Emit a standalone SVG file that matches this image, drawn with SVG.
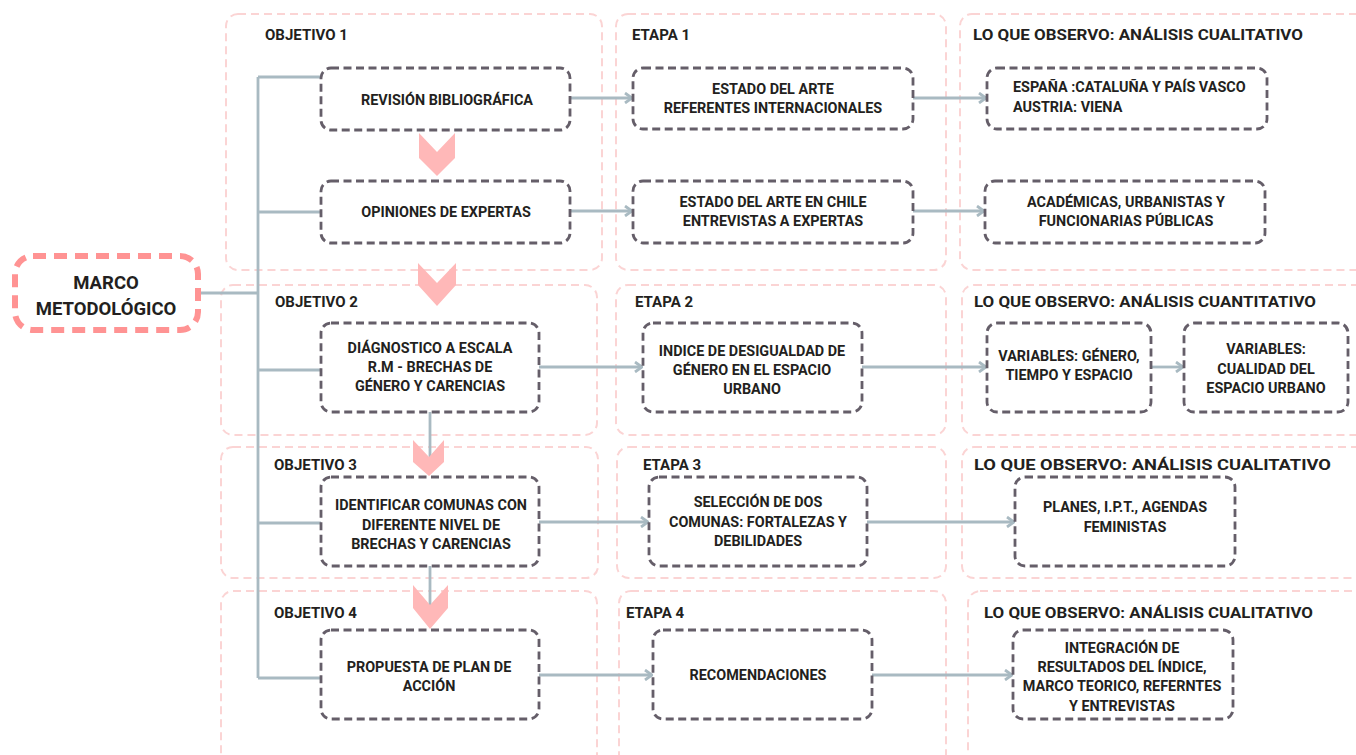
<svg xmlns="http://www.w3.org/2000/svg" width="1356" height="755" viewBox="0 0 1356 755">
<defs>
<style>
.panel{fill:none;stroke:#fbd4d4;stroke-width:2;stroke-dasharray:8 5}
.box{fill:#fff;stroke:#655e69;stroke-width:2.8;stroke-dasharray:8 4.5}
.title{font-family:Roboto,"Liberation Sans",sans-serif;font-weight:700;font-size:15px;fill:#231f20}
.t{font-family:Roboto,"Liberation Sans",sans-serif;font-weight:700;font-size:14.4px;fill:#231f20;text-anchor:middle}
.tl{font-family:Roboto,"Liberation Sans",sans-serif;font-weight:700;font-size:14.4px;fill:#231f20}
.conn{fill:none;stroke:#a9bac2;stroke-width:2.8}
.chev{fill:#ffb8b8}
</style>
<marker id="arr" markerWidth="12" markerHeight="12" refX="10" refY="6" orient="auto" markerUnits="userSpaceOnUse">
<polyline points="3,1 10,6 3,11" fill="none" stroke="#a9bac2" stroke-width="2.8"/>
</marker>
</defs>
<rect width="1356" height="755" fill="#fff"/>

<g id="panels">
<rect class="panel" x="226" y="14" width="376" height="256" rx="12"/>
<rect class="panel" x="616" y="14" width="330" height="256" rx="12"/>
<rect class="panel" x="960" y="14" width="420" height="256" rx="12"/>
<rect class="panel" x="221" y="285" width="376" height="150" rx="12"/>
<rect class="panel" x="616" y="285" width="330" height="150" rx="12"/>
<rect class="panel" x="962" y="285" width="420" height="150" rx="12"/>
<rect class="panel" x="221" y="447" width="377" height="131" rx="12"/>
<rect class="panel" x="617" y="447" width="329" height="131" rx="12"/>
<rect class="panel" x="962" y="447" width="420" height="131" rx="12"/>
<rect class="panel" x="221" y="591" width="376" height="200" rx="12"/>
<rect class="panel" x="619" y="591" width="327" height="200" rx="12"/>
<rect class="panel" x="968" y="591" width="420" height="200" rx="12"/>
<text class="title" x="265" y="40">OBJETIVO 1</text>
<text class="title" x="632" y="40">ETAPA 1</text>
<text class="title" x="973" y="40" textLength="330" lengthAdjust="spacingAndGlyphs">LO QUE OBSERVO: ANÁLISIS CUALITATIVO</text>
<text class="title" x="275" y="307">OBJETIVO 2</text>
<text class="title" x="635" y="307">ETAPA 2</text>
<text class="title" x="974" y="307" textLength="342" lengthAdjust="spacingAndGlyphs">LO QUE OBSERVO: ANÁLISIS CUANTITATIVO</text>
<text class="title" x="274" y="470">OBJETIVO 3</text>
<text class="title" x="643" y="470">ETAPA 3</text>
<text class="title" x="974" y="470" textLength="357" lengthAdjust="spacingAndGlyphs">LO QUE OBSERVO: ANÁLISIS CUALITATIVO</text>
<text class="title" x="274" y="618">OBJETIVO 4</text>
<text class="title" x="626" y="618">ETAPA 4</text>
<text class="title" x="984" y="618" textLength="329" lengthAdjust="spacingAndGlyphs">LO QUE OBSERVO: ANÁLISIS CUALITATIVO</text>
</g>

<g id="connectors">
<polyline class="conn" points="198,293 258,293"/>
<polyline class="conn" points="258,77 258,678"/>
<polyline class="conn" points="258,77 321,77"/>
<polyline class="conn" points="258,212 321,212"/>
<polyline class="conn" points="258,370 321,370"/>
<polyline class="conn" points="258,523 321,523"/>
<polyline class="conn" points="258,678 321,678"/>
<polyline class="conn" points="430,412 430,470"/>
<polyline class="conn" points="430,566 430,622"/>
<line class="conn" x1="570" y1="98" x2="632" y2="98" marker-end="url(#arr)"/>
<line class="conn" x1="913" y1="98" x2="986" y2="98" marker-end="url(#arr)"/>
<line class="conn" x1="570" y1="211" x2="632" y2="211" marker-end="url(#arr)"/>
<line class="conn" x1="913" y1="211" x2="984" y2="211" marker-end="url(#arr)"/>
<line class="conn" x1="539" y1="367" x2="642" y2="367" marker-end="url(#arr)"/>
<line class="conn" x1="862" y1="367" x2="986" y2="367" marker-end="url(#arr)"/>
<line class="conn" x1="1151" y1="367" x2="1183" y2="367" marker-end="url(#arr)"/>
<line class="conn" x1="539" y1="522" x2="648" y2="522" marker-end="url(#arr)"/>
<line class="conn" x1="867" y1="522" x2="1014" y2="522" marker-end="url(#arr)"/>
<line class="conn" x1="539" y1="675" x2="652" y2="675" marker-end="url(#arr)"/>
<line class="conn" x1="872" y1="675" x2="1012" y2="675" marker-end="url(#arr)"/>
</g>

<g id="chevrons">
<polygon class="chev" points="419,133 437,152 455,133 455,158 437,176 419,158"/>
<polygon class="chev" points="418,263 437,283 456,263 456,285 437,306 418,285"/>
<polygon class="chev" points="413,440 429,457 444,440 444,462 429,476 413,462"/>
<polygon class="chev" points="413,585 430,605 448,585 448,608 430,629 413,608"/>
</g>

<g id="marco">
<rect x="15" y="256" width="183" height="74" rx="18" fill="#fff" stroke="#ff9393" stroke-width="6" stroke-dasharray="13 8"/>
<text x="106" y="289" font-family="Roboto,'Liberation Sans',sans-serif" font-weight="700" font-size="18.5" fill="#231f20" text-anchor="middle">MARCO</text>
<text x="106" y="315" font-family="Roboto,'Liberation Sans',sans-serif" font-weight="700" font-size="18.5" fill="#231f20" text-anchor="middle">METODOLÓGICO</text>
</g>

<g id="n-revision"><rect class="box" x="321" y="68" width="249" height="62" rx="10"/><text class="t" x="447" y="105">REVISIÓN BIBLIOGRÁFICA</text></g>
<g id="n-opiniones"><rect class="box" x="321" y="181" width="249" height="62" rx="10"/><text class="t" x="446" y="217">OPINIONES DE EXPERTAS</text></g>
<g id="n-estado1"><rect class="box" x="633" y="68" width="280" height="61" rx="10"/><text class="t" x="773" y="94">ESTADO DEL ARTE</text><text class="t" x="773" y="113">REFERENTES INTERNACIONALES</text></g>
<g id="n-estado2"><rect class="box" x="633" y="181" width="280" height="62" rx="10"/><text class="t" x="773" y="207">ESTADO DEL ARTE EN CHILE</text><text class="t" x="773" y="226">ENTREVISTAS A EXPERTAS</text></g>
<g id="n-espana"><rect class="box" x="987" y="68" width="280" height="61" rx="10"/><text class="tl" x="1013" y="92">ESPAÑA :CATALUÑA Y PAÍS VASCO</text><text class="tl" x="1013" y="112">AUSTRIA: VIENA</text></g>
<g id="n-academicas"><rect class="box" x="985" y="181" width="280" height="62" rx="10"/><text class="t" x="1126" y="207">ACADÉMICAS, URBANISTAS Y</text><text class="t" x="1126" y="226">FUNCIONARIAS PÚBLICAS</text></g>
<g id="n-diagnostico"><rect class="box" x="321" y="323" width="218" height="89" rx="10"/><text class="t" x="430" y="353">DIÁGNOSTICO A ESCALA</text><text class="t" x="430" y="372">R.M - BRECHAS DE</text><text class="t" x="430" y="391">GÉNERO Y CARENCIAS</text></g>
<g id="n-indice"><rect class="box" x="643" y="323" width="219" height="89" rx="10"/><text class="t" x="752" y="356">INDICE DE DESIGUALDAD DE</text><text class="t" x="752" y="375">GÉNERO EN EL ESPACIO</text><text class="t" x="752" y="394">URBANO</text></g>
<g id="n-var1"><rect class="box" x="987" y="323" width="164" height="89" rx="10"/><text class="t" x="1069" y="361">VARIABLES: GÉNERO,</text><text class="t" x="1069" y="380">TIEMPO Y ESPACIO</text></g>
<g id="n-var2"><rect class="box" x="1184" y="323" width="164" height="89" rx="10"/><text class="t" x="1266" y="354">VARIABLES:</text><text class="t" x="1266" y="374">CUALIDAD DEL</text><text class="t" x="1266" y="393">ESPACIO URBANO</text></g>
<g id="n-identificar"><rect class="box" x="321" y="477" width="218" height="89" rx="10"/><text class="t" x="431" y="510">IDENTIFICAR COMUNAS CON</text><text class="t" x="431" y="530">DIFERENTE NIVEL DE</text><text class="t" x="431" y="549">BRECHAS Y CARENCIAS</text></g>
<g id="n-seleccion"><rect class="box" x="649" y="477" width="218" height="89" rx="10"/><text class="t" x="758" y="507">SELECCIÓN DE DOS</text><text class="t" x="758" y="527">COMUNAS: FORTALEZAS Y</text><text class="t" x="758" y="546">DEBILIDADES</text></g>
<g id="n-planes"><rect class="box" x="1015" y="477" width="220" height="89" rx="10"/><text class="t" x="1125" y="512">PLANES, I.P.T., AGENDAS</text><text class="t" x="1125" y="532">FEMINISTAS</text></g>
<g id="n-propuesta"><rect class="box" x="321" y="630" width="218" height="89" rx="10"/><text class="t" x="429" y="672">PROPUESTA DE PLAN DE</text><text class="t" x="429" y="691">ACCIÓN</text></g>
<g id="n-recomendaciones"><rect class="box" x="653" y="630" width="219" height="89" rx="10"/><text class="t" x="758" y="680">RECOMENDACIONES</text></g>
<g id="n-integracion"><rect class="box" x="1013" y="630" width="220" height="89" rx="10"/><text class="t" x="1122" y="653">INTEGRACIÓN DE</text><text class="t" x="1122" y="672">RESULTADOS DEL ÍNDICE,</text><text class="t" x="1122" y="691">MARCO TEORICO, REFERNTES</text><text class="t" x="1122" y="711">Y ENTREVISTAS</text></g>
</svg>
